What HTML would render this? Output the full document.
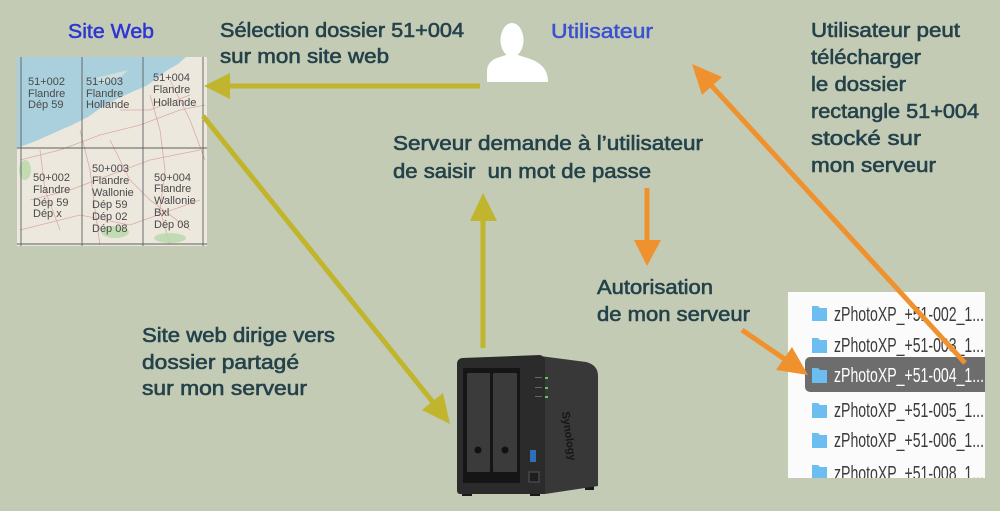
<!DOCTYPE html>
<html><head><meta charset="utf-8"><style>
html,body{margin:0;padding:0;background:#c3cbb4;}
svg{display:block;}
.t{font-family:"Liberation Sans",sans-serif;font-size:20px;fill:#25424b;stroke:#25424b;stroke-width:0.6px;}
.b{font-family:"Liberation Sans",sans-serif;font-size:20px;stroke-width:0.5px;}
.m{font-family:"Liberation Sans",sans-serif;font-size:11px;fill:#4a4a4a;}
.f{font-family:"Liberation Sans",sans-serif;font-size:20px;fill:#3a3a3a;}
</style></head><body>
<svg width="1000" height="511" viewBox="0 0 1000 511" xmlns="http://www.w3.org/2000/svg">
<defs>
<clipPath id="mapclip"><rect x="17" y="57" width="190" height="189"/></clipPath>
<clipPath id="panclip"><rect x="788" y="292" width="197" height="186"/></clipPath>
</defs>
<rect width="1000" height="511" fill="#c3cbb4"/>

<!-- Titles -->
<text class="b" x="68" y="38" fill="#2d36d2" stroke="#2d36d2" textLength="86" lengthAdjust="spacingAndGlyphs">Site Web</text>
<text class="b" x="551" y="38" fill="#3a52d2" stroke="#3a52d2" textLength="102" lengthAdjust="spacingAndGlyphs">Utilisateur</text>

<text class="t" x="220" y="37" textLength="244" lengthAdjust="spacingAndGlyphs">Sélection dossier 51+004</text>
<text class="t" x="220" y="63" textLength="169" lengthAdjust="spacingAndGlyphs">sur mon site web</text>

<text class="t" x="811" y="37" textLength="149" lengthAdjust="spacingAndGlyphs">Utilisateur peut</text>
<text class="t" x="811" y="64" textLength="110" lengthAdjust="spacingAndGlyphs">télécharger</text>
<text class="t" x="811" y="91" textLength="95" lengthAdjust="spacingAndGlyphs">le dossier</text>
<text class="t" x="811" y="118" textLength="168" lengthAdjust="spacingAndGlyphs">rectangle 51+004</text>
<text class="t" x="811" y="145" textLength="110" lengthAdjust="spacingAndGlyphs">stocké sur</text>
<text class="t" x="811" y="172" textLength="125" lengthAdjust="spacingAndGlyphs">mon serveur</text>

<text class="t" x="393" y="150" textLength="310" lengthAdjust="spacingAndGlyphs">Serveur demande à l’utilisateur</text>
<text class="t" x="393" y="178" textLength="258" lengthAdjust="spacingAndGlyphs">de saisir&#160; un mot de passe</text>

<text class="t" x="597" y="294" textLength="116" lengthAdjust="spacingAndGlyphs">Autorisation</text>
<text class="t" x="597" y="321" textLength="153" lengthAdjust="spacingAndGlyphs">de mon serveur</text>

<text class="t" x="142" y="342" textLength="193" lengthAdjust="spacingAndGlyphs">Site web dirige vers</text>
<text class="t" x="142" y="369" textLength="157" lengthAdjust="spacingAndGlyphs">dossier partagé</text>
<text class="t" x="142" y="395" textLength="165" lengthAdjust="spacingAndGlyphs">sur mon serveur</text>

<!-- Map -->
<g clip-path="url(#mapclip)">
<rect x="17" y="57" width="190" height="189" fill="#ede8de"/>
<path d="M17,57 L186,57 L178,64 L166,71 L156,79 L146,86 L132,92 L117,99 L102,107 L88,117 L72,125 L56,132 L36,141 L17,148 Z" fill="#a9d0dc"/>
<path d="M96,78 L128,70 L122,76 L102,84 Z" fill="#d9e4df" opacity="0.8"/>
<path d="M186,57 L207,57 L207,70 L195,66 Z" fill="#ede8de"/>
<g stroke="#d9a3a3" stroke-width="0.8" fill="none" opacity="0.9">
<path d="M20,160 L60,150 L100,135 L140,125 L180,110 L205,105"/>
<path d="M30,200 L70,190 L110,175 L150,160 L200,150"/>
<path d="M80,130 L90,170 L95,210 L100,245"/>
<path d="M150,95 L160,130 L165,170 L160,210 L170,245"/>
<path d="M110,140 L130,180 L150,200 L190,230"/>
<path d="M40,150 L45,190 L60,230"/>
<path d="M120,110 L150,110 L190,95"/>
<path d="M20,230 L80,215 L130,225 L200,200"/>
<path d="M170,80 L190,120 L205,160"/>
</g>
<g fill="#b9d9a8" opacity="0.8">
<ellipse cx="115" cy="232" rx="14" ry="6"/>
<ellipse cx="170" cy="238" rx="16" ry="5"/>
<ellipse cx="25" cy="170" rx="6" ry="10"/>
</g>
<g stroke="#5a6060" stroke-width="0.9">
<line x1="21" y1="57" x2="21" y2="246"/>
<line x1="82" y1="57" x2="82" y2="246"/>
<line x1="143" y1="57" x2="143" y2="246"/>
<line x1="203" y1="57" x2="203" y2="246"/>
<line x1="17" y1="148" x2="207" y2="148"/>
<line x1="17" y1="244" x2="207" y2="244"/>
</g>
<g class="m">
<text x="28" y="85">51+002</text><text x="28" y="97">Flandre</text><text x="28" y="108">Dép 59</text>
<text x="86" y="85">51+003</text><text x="86" y="97">Flandre</text><text x="86" y="108">Hollande</text>
<text x="153" y="81">51+004</text><text x="153" y="93">Flandre</text><text x="153" y="106">Hollande</text>
<text x="33" y="181">50+002</text><text x="33" y="193">Flandre</text><text x="33" y="206">Dép 59</text><text x="33" y="217">Dép x</text>
<text x="92" y="172">50+003</text><text x="92" y="184">Flandre</text><text x="92" y="196">Wallonie</text><text x="92" y="208">Dép 59</text><text x="92" y="220">Dép 02</text><text x="92" y="232">Dép 08</text>
<text x="154" y="181">50+004</text><text x="154" y="192">Flandre</text><text x="154" y="204">Wallonie</text><text x="154" y="216">Bxl</text><text x="154" y="228">Dép 08</text>
</g>
</g>

<!-- Person icon -->
<g fill="#ffffff">
<ellipse cx="512" cy="40" rx="11.5" ry="17"/>
<path d="M487,82 L487,70 Q488,60 500,57 L506,55 L518,55 L524,57 Q536,60 542,66 Q548,72 548,82 Z"/>
</g>

<!-- File panel -->
<g clip-path="url(#panclip)">
<rect x="788" y="292" width="197" height="186" fill="#fbfbfb"/>
<rect x="805" y="357" width="185" height="35" rx="5" fill="#6d6d6d"/>
<g fill="#6cbdf0">
<path d="M812,306 h6 l2,2 h7 v13 h-15 z"/>
<path d="M812,338 h6 l2,2 h7 v13 h-15 z"/>
<path d="M812,368 h6 l2,2 h7 v13 h-15 z"/>
<path d="M812,403 h6 l2,2 h7 v13 h-15 z"/>
<path d="M812,433 h6 l2,2 h7 v13 h-15 z"/>
<path d="M812,465 h6 l2,2 h7 v13 h-15 z"/>
</g>
<text class="f" x="834" y="321" textLength="150" lengthAdjust="spacingAndGlyphs">zPhotoXP_+51-002_1...</text>
<text class="f" x="834" y="352" textLength="150" lengthAdjust="spacingAndGlyphs">zPhotoXP_+51-003_1...</text>
<text class="f" x="834" y="382" textLength="150" lengthAdjust="spacingAndGlyphs" style="fill:#fff">zPhotoXP_+51-004_1...</text>
<text class="f" x="834" y="417" textLength="150" lengthAdjust="spacingAndGlyphs">zPhotoXP_+51-005_1...</text>
<text class="f" x="834" y="447" textLength="150" lengthAdjust="spacingAndGlyphs">zPhotoXP_+51-006_1...</text>
<text class="f" x="834" y="480" textLength="150" lengthAdjust="spacingAndGlyphs">zPhotoXP_+51-008_1...</text>
</g>

<!-- NAS -->
<g>
<rect x="462" y="490" width="10" height="6" fill="#1a1a1a"/>
<rect x="530" y="490" width="10" height="6" fill="#1a1a1a"/>
<rect x="585" y="484" width="9" height="6" fill="#1a1a1a"/>
<path d="M540,356 L586,362 Q598,365 598,376 L598,486 L545,494 Z" fill="#383838"/>
<path d="M462,358 L540,355 Q545,356 545,362 L545,494 L460,494 Q457,494 457,490 L457,364 Q457,359 462,358 Z" fill="#2b2b2b"/>
<rect x="463" y="368" width="57" height="115" fill="#151515"/>
<rect x="467" y="373" width="23" height="99" rx="1" fill="#3b3b3b"/>
<rect x="493" y="373" width="24" height="99" rx="1" fill="#3b3b3b"/>
<circle cx="478" cy="450" r="3.5" fill="#111"/>
<circle cx="505" cy="450" r="3.5" fill="#111"/>
<g fill="#55d055">
<rect x="545" y="377" width="3" height="2"/>
<rect x="545" y="387" width="3" height="2"/>
<rect x="545" y="396" width="3" height="2"/>
</g>
<g fill="#666">
<rect x="535" y="377" width="7" height="1"/>
<rect x="535" y="387" width="7" height="1"/>
<rect x="535" y="396" width="7" height="1"/>
</g>
<rect x="530" y="450" width="6" height="12" fill="#2f6fb6"/>
<rect x="529" y="472" width="10" height="10" fill="#1e1e1e" stroke="#555" stroke-width="1"/>
<text x="562" y="412" transform="rotate(82 562 412)" font-family="Liberation Sans, sans-serif" font-size="11" font-weight="bold" fill="#161616">Synology</text>
</g>

<!-- Yellow arrows -->
<g stroke="#c0b52c" stroke-width="5" fill="none">
<line x1="480" y1="86" x2="228" y2="86"/>
<line x1="203" y1="116" x2="436" y2="406"/>
<line x1="483" y1="348" x2="483" y2="218"/>
</g>
<g fill="#c0b52c">
<polygon points="204,86 230,73 230,99"/>
<polygon points="450,424 422,410 443,393"/>
<polygon points="483,193 470,221 497,221"/>
</g>

<!-- Orange arrows -->
<g stroke="#ef922e" stroke-width="5" fill="none">
<line x1="647" y1="188" x2="647" y2="242"/>
<line x1="742" y1="330" x2="786" y2="360"/>
<line x1="965" y1="363" x2="710" y2="84"/>
</g>
<g fill="#ef922e">
<polygon points="647,266 634,240 661,240"/>
<polygon points="808,375 776,370 792,347"/>
<polygon points="692,64 722,77 702,95"/>
</g>
</svg>
</body></html>
